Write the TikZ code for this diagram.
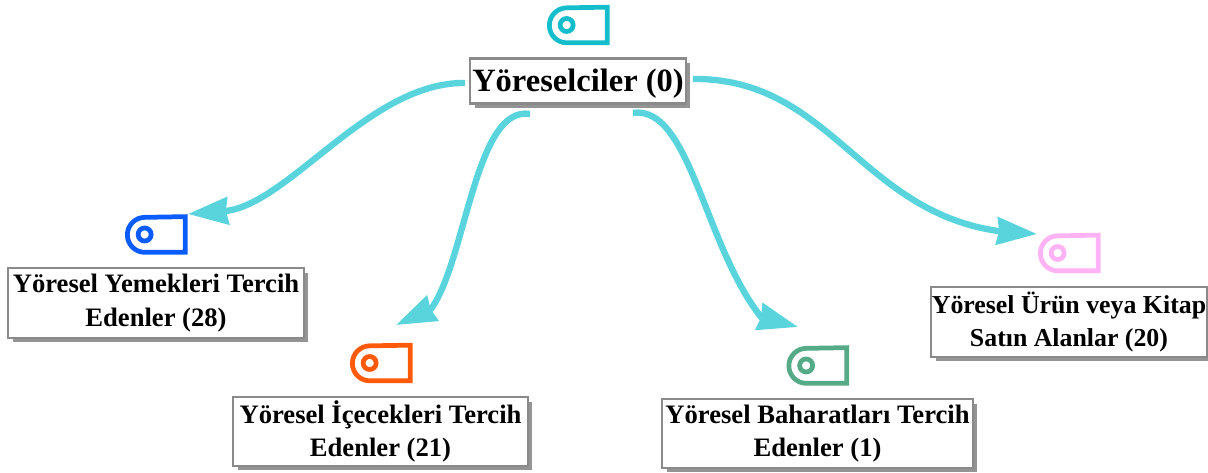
\documentclass[tikz,border=0pt]{standalone}
\usepackage{fontspec}
\setmainfont{Liberation Serif}
\usetikzlibrary{arrows.meta,shadows}
\definecolor{linkcyan}{HTML}{59D3DC}
\definecolor{rootcyan}{HTML}{14BDCB}
\definecolor{yemekblue}{HTML}{0A5CFF}
\definecolor{icecekorange}{HTML}{FF5A0A}
\definecolor{baharatgreen}{HTML}{55AB87}
\definecolor{urunpink}{HTML}{FFB3F5}
\definecolor{boxgray}{HTML}{8A8A8A}
%% Draw one tag icon: name, position, colour
\newcommand\tagicon[3]{
  \node[iconbox] (#1) at (#2) {};
  \draw[line width=2.7pt,#3] (#1.north east) -- (#1.south east) -- ++(-40.5,0) arc (270:90:17.5) -- cycle;
  \draw[line width=2.7pt,#3] ([xshift=.36cm]#1.west) circle (6.5);
}
\begin{document}
\begin{tikzpicture}[x=.02cm,y=.02cm,
    iconbox/.style={inner sep=0,minimum width=1.16cm,minimum height=.7cm},
    catnode/.style={draw=boxgray,line width=1.3pt,fill=white,inner sep=0,align=center,font=\bfseries\fontsize{15.15}{19}\selectfont,
      drop shadow={shadow xshift=.09cm,shadow yshift=-.09cm,fill=black!42,opacity=1}},
    rootnode/.style={catnode,font=\bfseries\fontsize{18.5}{20}\selectfont,text depth=1pt},
    link/.style={draw=linkcyan,line width=3.6pt,-{Stealth[length=.8cm,width=.54cm,inset=.04cm]}}]

  \useasboundingbox (0,0) rectangle (1208,473);

  %% Icons
  \tagicon{rooticon}{578,448}{rootcyan}
  \tagicon{yemekicon}{156,238.5}{yemekblue}
  \tagicon{icecekicon}{381,110}{icecekorange}
  \tagicon{baharaticon}{817.5,107.5}{baharatgreen}
  \tagicon{urunicon}{1069,220}{urunpink}

  %% Boxes
  \node[rootnode,minimum width=4.32cm,minimum height=.9cm] (root) at (578,392) {Yöreselciler (0)};
  \node[catnode,minimum width=5.92cm,minimum height=1.4cm] (yemek) at (156,170) {Yöresel Yemekleri Tercih\\Edenler (28)};
  \node[catnode,minimum width=5.9cm,minimum height=1.38cm] (icecek) at (380.5,41.5) {Yöresel İçecekleri Tercih\\Edenler (21)};
  \node[catnode,minimum width=6.22cm,minimum height=1.38cm] (baharat) at (817.5,39.5) {Yöresel Baharatları Tercih\\Edenler (1)};
  \node[catnode,font=\bfseries\fontsize{14.7}{19}\selectfont,minimum width=5.52cm,minimum height=1.4cm] (urun) at (1069,151) {Yöresel Ürün veya Kitap\\Satın Alanlar (20)};

  %% Arrow tips beside the icons
  \coordinate (yemektip) at (188,259);
  \coordinate (icecektip) at (396,148);
  \coordinate (baharattip) at (798,146);
  \coordinate (uruntip) at (1037,239);

  %% Connectors
  \draw[link,shorten <=.08cm] ([yshift=-.04cm]root.west) .. controls (370,391) and (290,270) .. (226,262) -- (yemektip);
  \draw[link,shorten <=-.04cm] ([xshift=-1cm]root.south) ++(0,-9) .. controls (475,368) and (466,212) .. (431,164) -- (icecektip);
  \draw[link,shorten <=-.04cm] ([xshift=1.14cm]root.south) ++(0,-8) .. controls (690,368) and (704,228) .. (761,156) -- (baharattip);
  \draw[link,shorten <=.12cm] ([yshift=.04cm]root.east) .. controls (830,395) and (860,262) .. (998,242) -- (uruntip);

\end{tikzpicture}
\end{document}
